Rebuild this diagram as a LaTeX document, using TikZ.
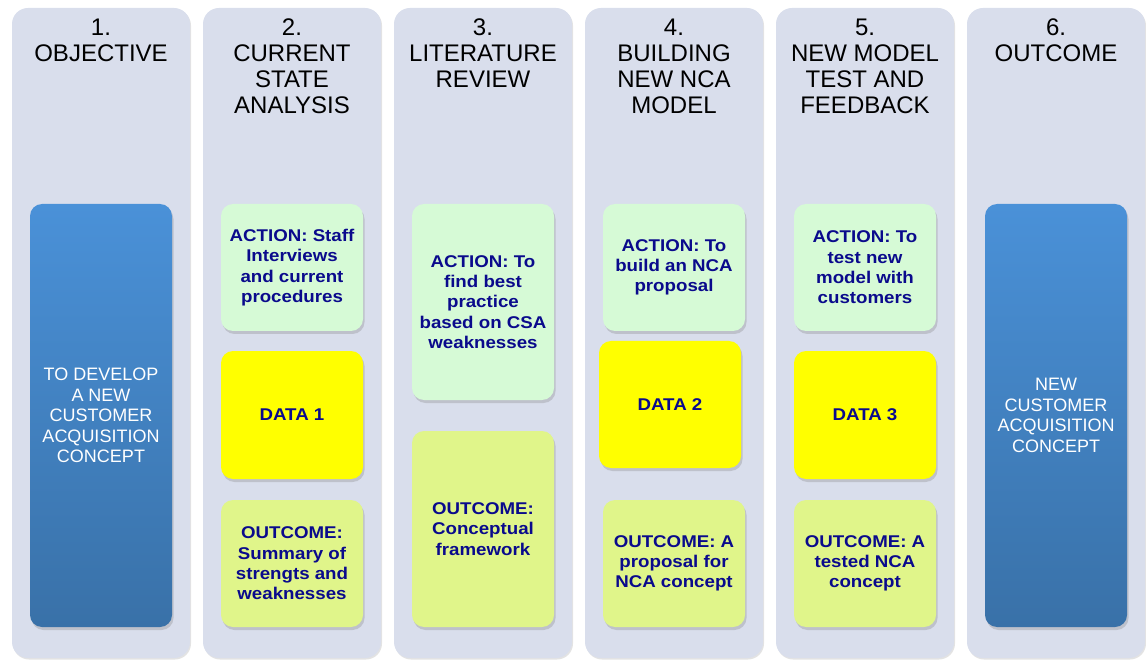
\documentclass[tikz,border=0pt]{standalone}
\usepackage{fontspec}
\setmainfont{Liberation Sans}
\newfontfamily\boxfont[FakeStretch=1.1]{Liberation Sans}
\usepackage{xcolor}
\usepackage{tikz}
\usetikzlibrary{shadows}

\definecolor{panelbg}{RGB}{217,222,236}
\definecolor{actgreen}{RGB}{214,250,214}
\definecolor{datayellow}{RGB}{255,255,0}
\definecolor{outgreen}{RGB}{224,245,138}
\definecolor{boxtext}{RGB}{10,10,140}
\definecolor{bluetop}{RGB}{74,145,216}
\definecolor{bluebot}{RGB}{57,113,168}

\begin{document}
\begin{tikzpicture}[x=1pt,y=-1pt,
	panel/.style={fill=panelbg, rounded corners=16pt, minimum width=178pt, minimum height=650pt,
		drop shadow={opacity=0.22, shadow xshift=1pt, shadow yshift=-1.5pt}},
	title/.style={anchor=north, align=center, inner sep=0pt, font=\fontsize{24}{26}\selectfont},
	box/.style={rounded corners=12pt, minimum width=142pt, align=center, inner sep=2pt,
		drop shadow={opacity=0.3, shadow xshift=1.5pt, shadow yshift=-3pt},
		text=boxtext, font=\boxfont\bfseries\fontsize{17}{20.3}\selectfont},
	action/.style={box, fill=actgreen},
	data/.style={box, fill=datayellow},
	result/.style={box, fill=outgreen},
	goal/.style={box, minimum height=423pt, top color=bluetop, bottom color=bluebot,
		text=white, font=\fontsize{18}{20.5}\selectfont}]
	\useasboundingbox (0,0) rectangle (1146,660);
	% columns
	\node[panel] (p1) at (101,333) {};
	\node[panel] (p2) at (292,333) {};
	\node[panel] (p3) at (483,333) {};
	\node[panel] (p4) at (674,333) {};
	\node[panel] (p5) at (865,333) {};
	\node[panel] (p6) at (1056,333) {};
	% headings
	\node[title] (t1) at (101,19) {1.\\OBJECTIVE};
	\node[title] (t2) at (292,19) {2.\\CURRENT\\STATE\\ANALYSIS};
	\node[title] (t3) at (483,19) {3.\\LITERATURE\\REVIEW};
	\node[title] (t4) at (674,19) {4.\\BUILDING\\NEW NCA\\MODEL};
	\node[title] (t5) at (865,19) {5.\\NEW MODEL\\TEST AND\\FEEDBACK};
	\node[title] (t6) at (1056,19) {6.\\OUTCOME};
	% objective and outcome
	\node[goal] (g1) at (101,415.5) {TO DEVELOP\\A NEW\\CUSTOMER\\ACQUISITION\\CONCEPT};
	\node[goal] (g6) at (1056,415.5) {NEW\\CUSTOMER\\ACQUISITION\\CONCEPT};
	% current state analysis
	\node[action, minimum height=127pt] (a2) at (292,267.5) {ACTION: Staff\\Interviews\\and current\\procedures};
	\node[data, minimum height=128pt] (d2) at (292,415) {DATA 1};
	\node[result, minimum height=127pt] (o2) at (292,563.5) {OUTCOME:\\Summary of\\strengts and\\weaknesses};
	% literature review
	\node[action, minimum height=196pt] (a3) at (483,302) {ACTION: To\\find best\\practice\\based on CSA\\weaknesses};
	\node[result, minimum height=196pt] (o3) at (483,529) {OUTCOME:\\Conceptual\\framework};
	% building new model
	\node[action, minimum height=127pt] (a4) at (674,267.5) {ACTION: To\\build an NCA\\proposal};
	\node[data, minimum height=127pt] (d4) at (670,404.5) {DATA 2};
	\node[result, minimum height=127pt] (o4) at (674,563.5) {OUTCOME: A\\proposal for\\NCA concept};
	% test and feedback
	\node[action, minimum height=127pt] (a5) at (865,267.5) {ACTION: To\\test new\\model with\\customers};
	\node[data, minimum height=128pt] (d5) at (865,415) {DATA 3};
	\node[result, minimum height=127pt] (o5) at (865,563.5) {OUTCOME: A\\tested NCA\\concept};
\end{tikzpicture}
\end{document}
